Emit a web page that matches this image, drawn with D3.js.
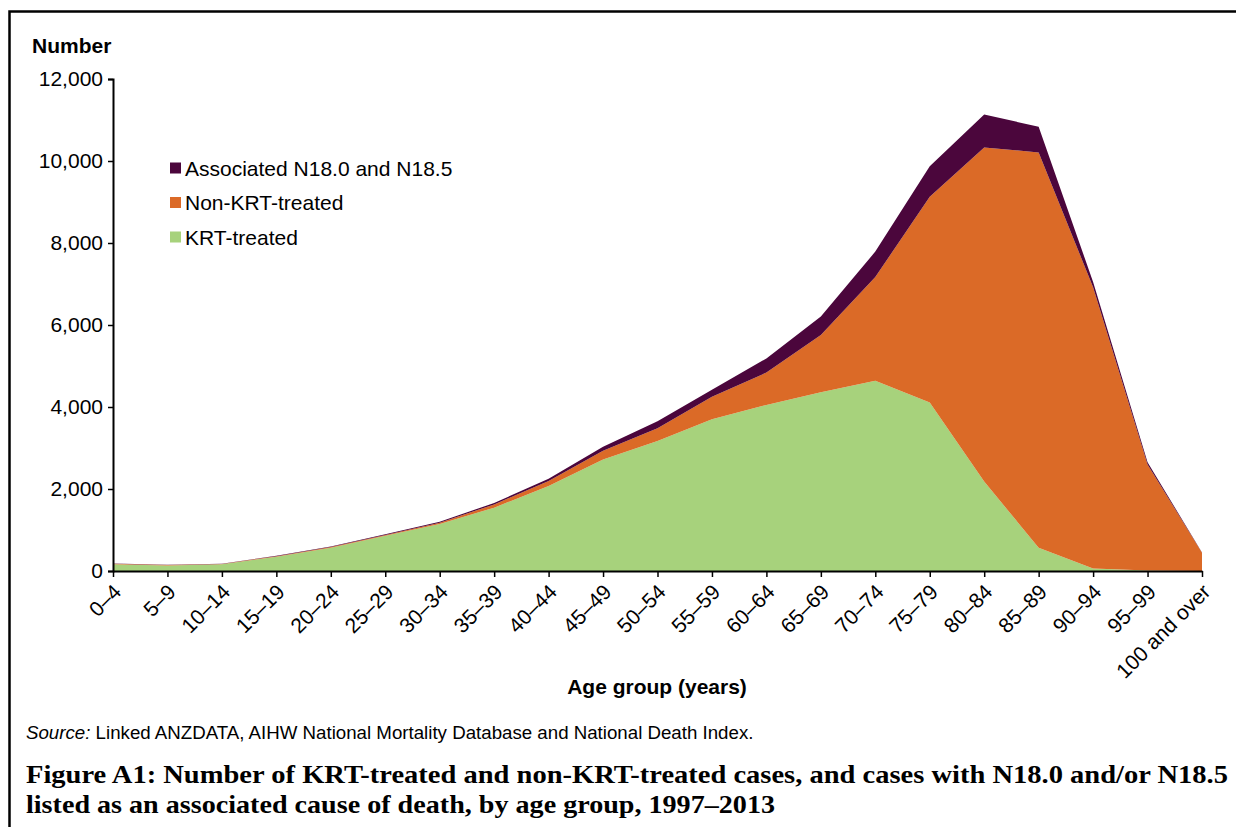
<!doctype html>
<html>

<head>
	<style>
		body { margin: 0; background: white; }
		svg { display: block; font-family: Arial, "Liberation Sans", sans-serif; }
	</style>
</head>

<body>
	<div class="figure"></div>

	<script src="https://d3js.org/d3.v7.min.js"></script>
	<script>
		let ageGroups = ["0–4", "5–9", "10–14", "15–19", "20–24", "25–29", "30–34", "35–39", "40–44", "45–49",
			"50–54", "55–59", "60–64", "65–69", "70–74", "75–79", "80–84", "85–89", "90–94", "95–99", "100 and over"];
		let krtTreated = [165, 135, 165, 350, 570, 860, 1145, 1545, 2075, 2720, 3170, 3700, 4050, 4360, 4640, 4110, 2180, 570, 60, 10, 3];
		let nonKrtTreated = [10, 10, 8, 12, 15, 20, 30, 80, 120, 215, 310, 550, 790, 1395, 2530, 5020, 8150, 9640, 6860, 2590, 440];
		let associated = [5, 5, 5, 8, 10, 15, 25, 35, 55, 95, 170, 170, 345, 455, 620, 740, 805, 625, 130, 50, 10];
		let yTicks = [0, 2000, 4000, 6000, 8000, 10000, 12000];

		let seriesNames = ["KRT-treated", "Non-KRT-treated", "Associated N18.0 and N18.5"];
		let colors = ["#a7d27c", "#db6a27", "#4b063c"];

		let svg = d3.select(".figure")
			.append("svg")
			.attr("width", 1236)
			.attr("height", 827);

		// frame round the whole figure (right and bottom sides are off the page)
		svg.append("rect")
			.attr("x", 9.5).attr("y", 11.5)
			.attr("width", 1260).attr("height", 860)
			.attr("fill", "none").attr("stroke", "black").attr("stroke-width", 2.5);

		let x = d3.scalePoint().domain(ageGroups).range([113, 1202]);
		let y = d3.scaleLinear().domain([0, 12000]).range([571, 79]);

		let rows = ageGroups.map((g, i) => ({
			group: g,
			"KRT-treated": krtTreated[i],
			"Non-KRT-treated": nonKrtTreated[i],
			"Associated N18.0 and N18.5": associated[i]
		}));

		let stacked = d3.stack().keys(seriesNames)(rows);

		let area = d3.area()
			.x(d => x(d.data.group))
			.y0(d => y(d[0]))
			.y1(d => y(d[1]));

		svg.append("g")
			.selectAll("path")
			.data(stacked)
			.join("path")
			.attr("d", area)
			.attr("fill", (d, i) => colors[i]);

		// y axis
		let yAxis = svg.append("g")
			.attr("transform", "translate(113,0)")
			.call(d3.axisLeft(y).tickValues(yTicks).tickSize(5).tickPadding(5).tickFormat(d3.format(",")));
		yAxis.select(".domain").attr("stroke-width", 2);
		yAxis.selectAll(".tick line").attr("stroke-width", 1.5);
		yAxis.selectAll("text").style("font-size", "21px").attr("fill", "black");

		// x axis
		let xAxis = svg.append("g")
			.attr("transform", "translate(0,571)")
			.call(d3.axisBottom(x).tickSize(6).tickSizeOuter(0));
		xAxis.select(".domain").attr("stroke-width", 2);
		xAxis.selectAll(".tick line").attr("stroke-width", 1.5);
		xAxis.selectAll("text")
			.style("font-size", "21px")
			.attr("fill", "black")
			.attr("text-anchor", "end")
			.attr("y", 0)
			.attr("dy", "0.75em")
			.attr("transform", "translate(-2,11) rotate(-45)");

		svg.append("text")
			.attr("x", 32).attr("y", 53)
			.style("font-size", "21px").style("font-weight", "bold")
			.text("Number");

		svg.append("text")
			.attr("x", 657).attr("y", 694)
			.attr("text-anchor", "middle")
			.style("font-size", "21px").style("font-weight", "bold")
			.text("Age group (years)");

		// legend, top entry first
		let legendOrder = [2, 1, 0];
		let legend = svg.append("g")
			.selectAll("g")
			.data(legendOrder)
			.join("g")
			.attr("transform", (d, i) => "translate(170," + (168 + i * 34.5) + ")");
		legend.append("rect")
			.attr("x", 0).attr("y", -5.5)
			.attr("width", 11).attr("height", 11)
			.attr("fill", d => colors[d]);
		legend.append("text")
			.attr("x", 15).attr("dy", "0.36em")
			.style("font-size", "21px")
			.text(d => seriesNames[d]);

		let source = svg.append("text")
			.attr("x", 26).attr("y", 739)
			.style("font-size", "18.7px");
		source.append("tspan").style("font-style", "italic").text("Source:");
		source.append("tspan").text(" Linked ANZDATA, AIHW National Mortality Database and National Death Index.");

		svg.append("text")
			.attr("x", 26).attr("y", 783)
			.attr("textLength", 1202).attr("lengthAdjust", "spacingAndGlyphs")
			.style("font-family", "'Liberation Serif', 'DejaVu Serif', serif")
			.style("font-size", "26px").style("font-weight", "bold")
			.text("Figure A1: Number of KRT-treated and non-KRT-treated cases, and cases with N18.0 and/or N18.5");

		svg.append("text")
			.attr("x", 26).attr("y", 813)
			.attr("textLength", 749).attr("lengthAdjust", "spacingAndGlyphs")
			.style("font-family", "'Liberation Serif', 'DejaVu Serif', serif")
			.style("font-size", "26px").style("font-weight", "bold")
			.text("listed as an associated cause of death, by age group, 1997–2013");
	</script>

</body>

</html>
